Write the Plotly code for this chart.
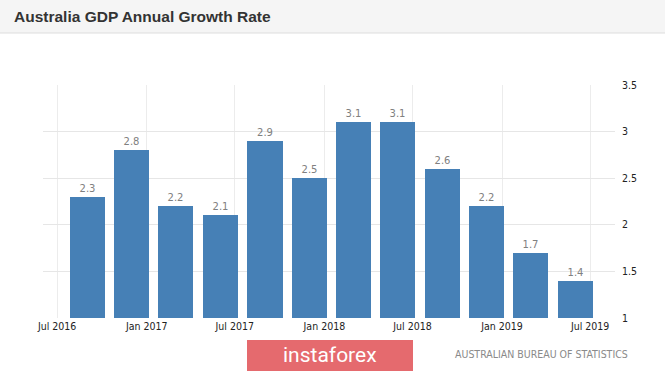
import plotly.graph_objects as go

quarters = ["2016-09-01", "2016-12-01", "2017-03-01", "2017-06-01", "2017-09-01", "2017-12-01",
            "2018-03-01", "2018-06-01", "2018-09-01", "2018-12-01", "2019-03-01", "2019-06-01"]
growth = [2.3, 2.8, 2.2, 2.1, 2.9, 2.5, 3.1, 3.1, 2.6, 2.2, 1.7, 1.4]
title_text = "Australia GDP Annual Growth Rate"
source_text = "AUSTRALIAN BUREAU OF STATISTICS"
brand_text = "instaforex"

W, H = 665, 371
L, R, T, B = 43, 50, 85, 53
pw, ph = W - L - R, H - T - B

def px(x):
    return (x - L) / pw

def py(y):
    return (H - B - y) / ph

fig = go.Figure()
fig.add_trace(go.Bar(
    x=quarters, y=growth,
    width=[72 * 86400000] * len(quarters),
    marker=dict(color="#4680b6", line=dict(width=0)),
    text=[f"{v}" for v in growth], textposition="outside",
    textfont=dict(family="DejaVu Sans", size=10, color="#808080"),
    cliponaxis=False, hoverinfo="skip",
))

fig.update_layout(
    width=W, height=H,
    margin=dict(l=L, r=R, t=T, b=B),
    paper_bgcolor="white", plot_bgcolor="white",
    showlegend=False,
    bargap=0,
    title=dict(text=title_text, x=14 / W, xanchor="left", y=1 - 17 / H, yanchor="middle",
               font=dict(family="Liberation Sans", size=15.5, color="#333333", weight="bold")),
    xaxis=dict(type="date", range=["2016-06-02", "2019-08-21"],
               tick0="2016-07-01", dtick="M6", tickformat="%b %Y",
               showgrid=True, gridcolor="#ececec", gridwidth=1,
               showline=False, zeroline=False, ticks="",
               tickfont=dict(family="DejaVu Sans Condensed", size=10.5, color="#222222")),
    yaxis=dict(range=[1, 3.5], dtick=0.5, side="right",
               showgrid=True, gridcolor="#e6e6e6", gridwidth=1,
               zeroline=False, showline=False, ticks="", ticklabelstandoff=6,
               tickfont=dict(family="DejaVu Sans Condensed", size=10.5, color="#222222")),
    shapes=[
        dict(type="rect", xref="paper", yref="paper", x0=px(0), x1=px(W), y0=py(33), y1=py(0),
             fillcolor="#f5f5f5", line=dict(width=0), layer="below"),
        dict(type="line", xref="paper", yref="paper", x0=px(0), x1=px(W), y0=py(33), y1=py(33),
             line=dict(color="#dddddd", width=1)),
        dict(type="rect", xref="paper", yref="paper", x0=px(247), x1=px(413), y0=py(371), y1=py(340),
             fillcolor="#e56a6e", line=dict(width=0)),
    ],
    annotations=[
        dict(text=brand_text, xref="paper", yref="paper", x=px(330), y=py(355),
             xanchor="center", yanchor="middle", showarrow=False,
             font=dict(family="Roboto", size=21, color="white")),
        dict(text=source_text, xref="paper", yref="paper", x=px(453), y=py(354),
             xanchor="left", yanchor="middle", showarrow=False,
             font=dict(family="DejaVu Sans Condensed", size=10.5, color="#8a8a8a")),
    ],
)

fig.write_html("out.html", config={"displayModeBar": False},
               post_script="document.body.style.margin='0';document.body.style.overflow='hidden';")
